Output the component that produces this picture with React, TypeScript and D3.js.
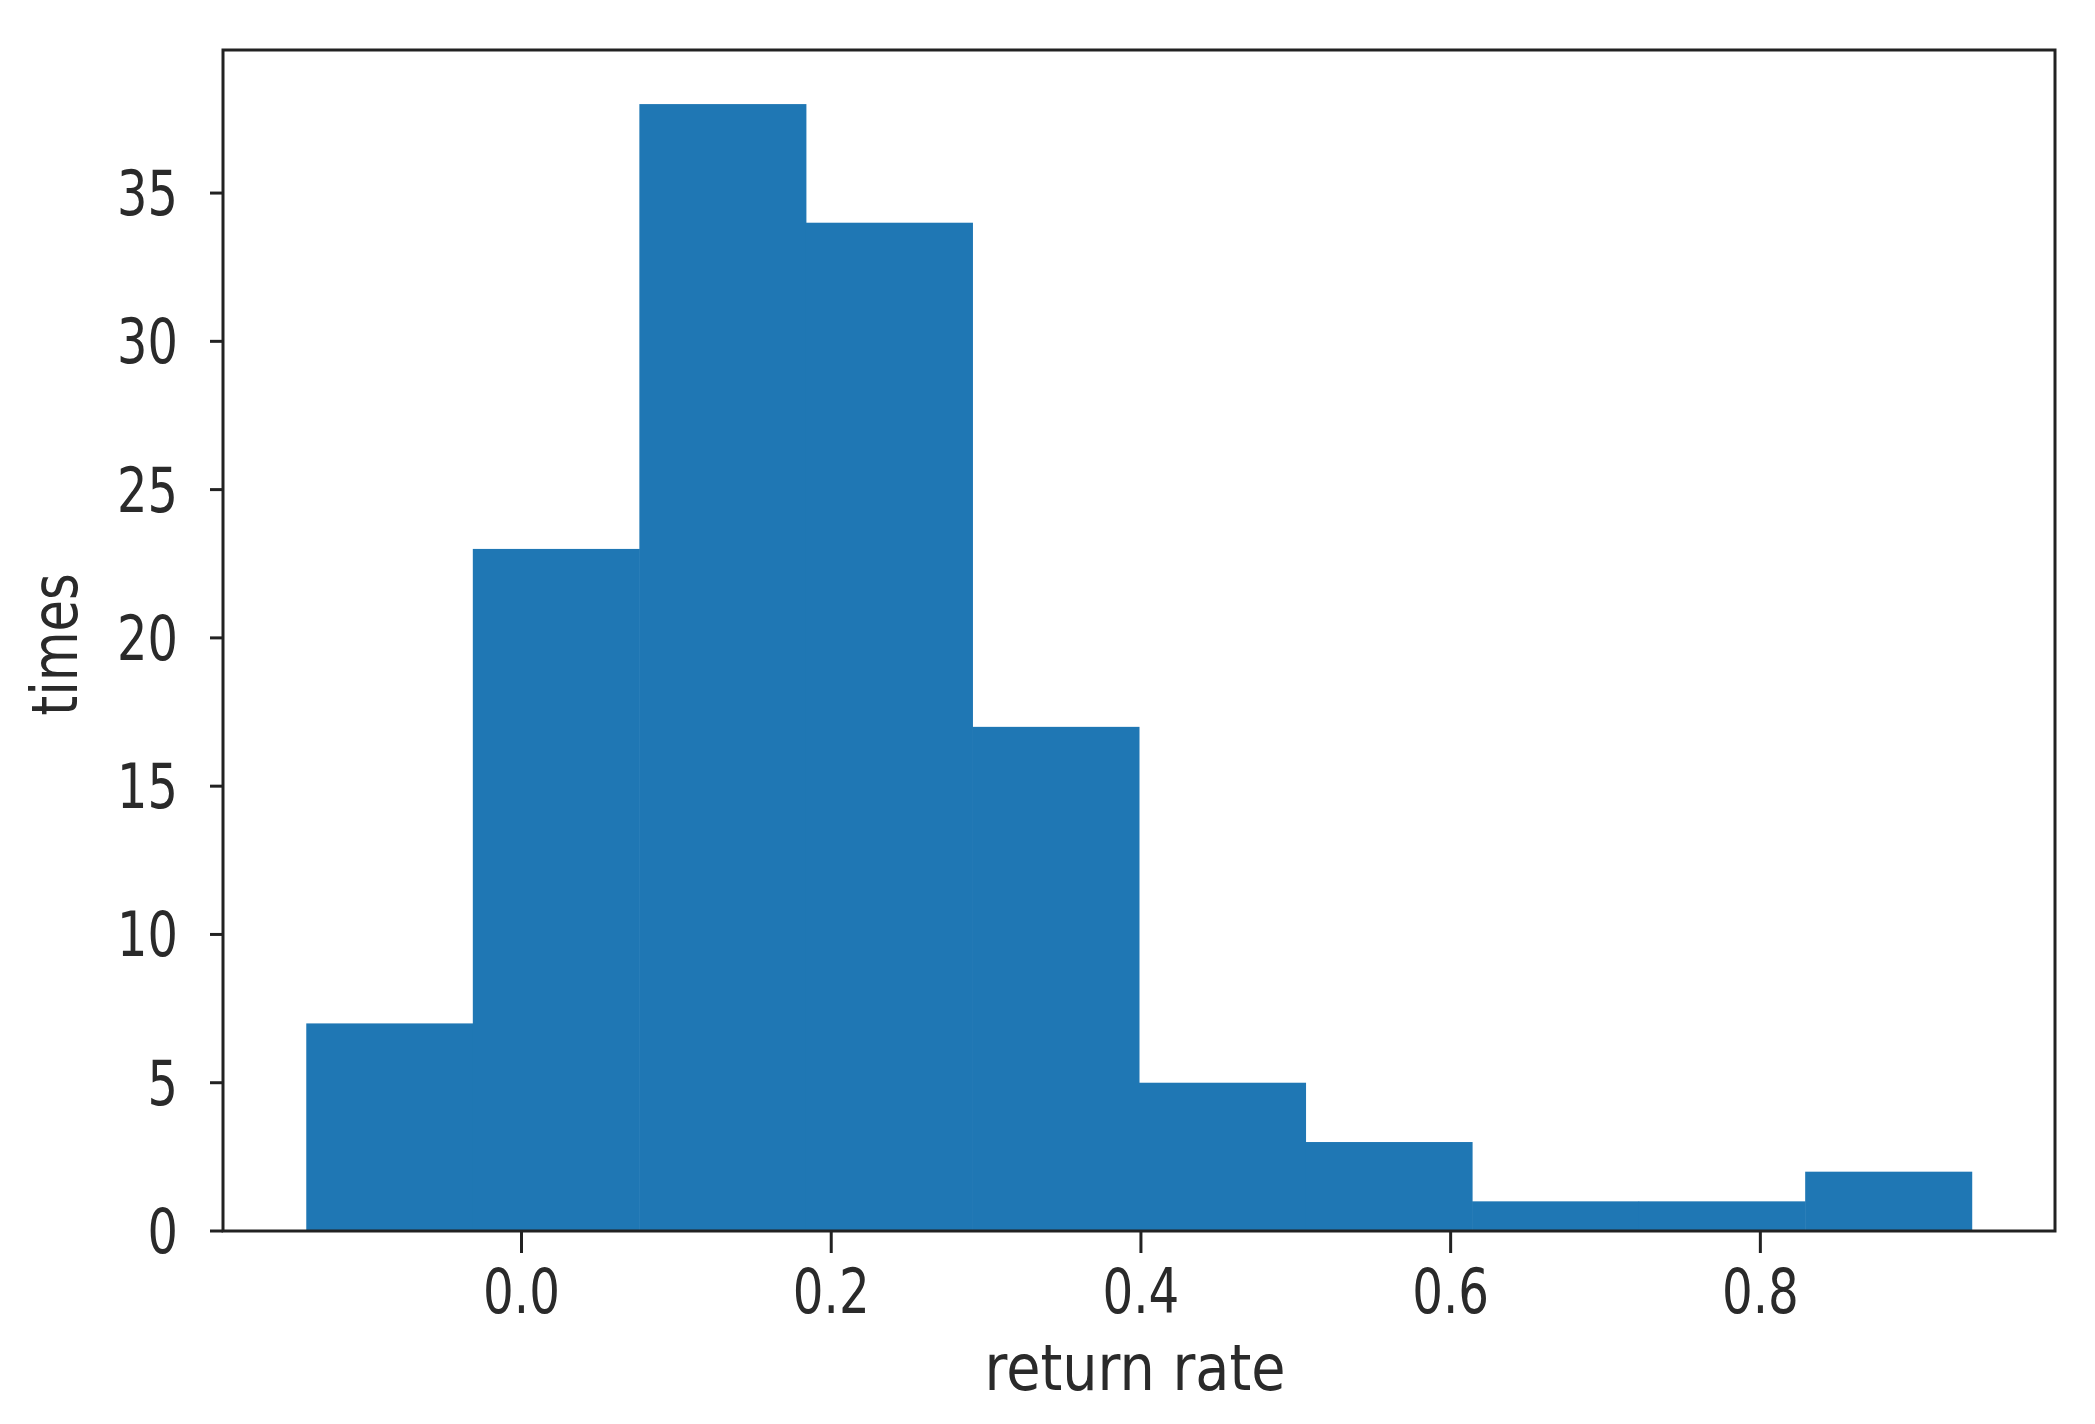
import React from "react";
import * as d3 from "d3";

// Histogram data
const binStart = -0.139;
const binWidth = 0.10755;
const counts = [7, 23, 38, 34, 17, 5, 3, 1, 1, 2];
const xTicks = [0.0, 0.2, 0.4, 0.6, 0.8];
const yTicks = [0, 5, 10, 15, 20, 25, 30, 35];
const xLabel = "return rate";
const yLabel = "times";

const W = 2095;
const H = 1424;
const M = { left: 223, right: 2055, top: 50, bottom: 1231 };
const FONT = "'DejaVu Sans', sans-serif";
const TEXT = "#2a2a2a";

export default function App() {
  const edges = counts.map((_, i) => binStart + i * binWidth);
  const lo = binStart;
  const hi = binStart + counts.length * binWidth;
  const pad = (hi - lo) * 0.05;
  const x = d3.scaleLinear().domain([lo - pad, hi + pad]).range([M.left, M.right]);
  const yMax = (d3.max(counts) as number) * 1.048;
  const y = d3.scaleLinear().domain([0, yMax]).range([M.bottom, M.top]);

  return (
    <svg
      width={W}
      height={H}
      style={{ position: "absolute", left: 0, top: 0, display: "block", background: "#fff" }}
    >
      {counts.map((c, i) => (
        <rect
          key={i}
          x={x(edges[i])}
          y={y(c)}
          width={x(edges[i] + binWidth) - x(edges[i]) + 0.5}
          height={y(0) - y(c)}
          fill="#1f77b4"
        />
      ))}
      {/* frame */}
      <rect
        x={M.left}
        y={M.top}
        width={M.right - M.left}
        height={M.bottom - M.top}
        fill="none"
        stroke="#222"
        strokeWidth={3}
      />
      {/* y ticks */}
      {yTicks.map((t) => (
        <g key={"y" + t}>
          <line x1={M.left - 13} x2={M.left} y1={y(t)} y2={y(t)} stroke="#222" strokeWidth={3} />
          <text
            transform={`translate(${M.left - 45},${y(t)}) scale(0.76,1)`}
            textAnchor="end"
            dominantBaseline="central"
            fontFamily={FONT}
            fontSize={63}
            fill={TEXT}
          >
            {String(t)}
          </text>
        </g>
      ))}
      {/* x ticks */}
      {xTicks.map((t) => (
        <g key={"x" + t}>
          <line x1={x(t)} x2={x(t)} y1={M.bottom} y2={M.bottom + 22} stroke="#222" strokeWidth={3} />
          <text
            transform={`translate(${x(t)},1313) scale(0.78,1)`}
            textAnchor="middle"
            fontFamily={FONT}
            fontSize={62}
            fill={TEXT}
          >
            {d3.format(".1f")(t)}
          </text>
        </g>
      ))}
      <text
        transform={`translate(${(M.left + M.right) / 2 - 4},1390) scale(0.87,1)`}
        textAnchor="middle"
        fontFamily={FONT}
        fontSize={64}
        fill={TEXT}
      >
        {xLabel}
      </text>
      <text
        transform={`translate(77,${(M.top + M.bottom) / 2 + 4}) rotate(-90) scale(0.8,1)`}
        textAnchor="middle"
        fontFamily={FONT}
        fontSize={64}
        fill={TEXT}
      >
        {yLabel}
      </text>
    </svg>
  );
}
